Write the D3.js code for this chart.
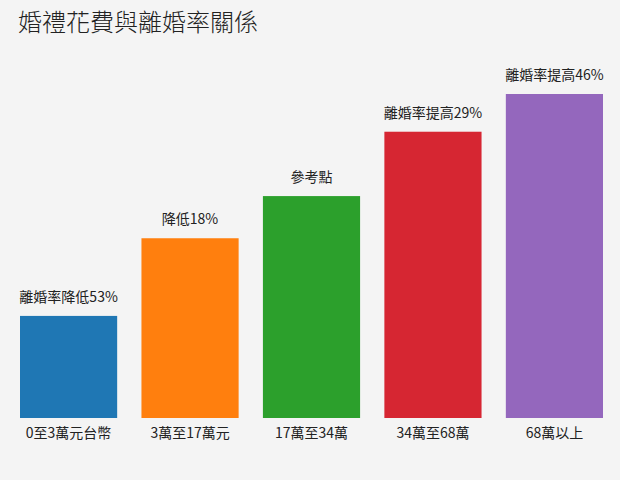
<!DOCTYPE html>
<html>
<head>
<meta charset="utf-8">
<script src="https://cdn.jsdelivr.net/npm/d3@7"></script>
<style>
  html, body { margin: 0; padding: 0; background: #f4f4f4; }
  svg { display: block; font-family: "Noto Sans CJK TC", "Noto Sans", sans-serif; }
</style>
</head>
<body>
<svg id="chart" width="620" height="480"></svg>
<script>
const title = "婚禮花費與離婚率關係";
const categories = ["0至3萬元台幣", "3萬至17萬元", "17萬至34萬", "34萬至68萬", "68萬以上"];
const values = [0.46, 0.81, 1.00, 1.29, 1.46];
const barLabels = ["離婚率降低53%", "降低18%", "參考點", "離婚率提高29%", "離婚率提高46%"];
const colors = ["#1f77b4", "#ff7f0e", "#2ca02c", "#d62632", "#9467bd"];

const svg = d3.select("#chart");
svg.append("rect").attr("width", 620).attr("height", 480).attr("fill", "#f4f4f4");

const x = d3.scaleBand().domain(categories).range([20, 603]).paddingInner(0.2).paddingOuter(0);
const y = d3.scaleLinear().domain([0, 1.46]).range([418, 94]);

svg.append("text")
  .attr("x", 18).attr("y", 31)
  .attr("font-size", 24)
  .attr("font-weight", 300)
  .attr("fill", "#222")
  .text(title);

svg.selectAll("rect.bar")
  .data(categories)
  .join("rect")
  .attr("class", "bar")
  .attr("x", d => x(d))
  .attr("width", x.bandwidth())
  .attr("y", (d, i) => y(values[i]))
  .attr("height", (d, i) => y(0) - y(values[i]))
  .attr("fill", (d, i) => colors[i]);

svg.selectAll("text.vlabel")
  .data(categories)
  .join("text")
  .attr("class", "vlabel")
  .attr("x", d => x(d) + x.bandwidth() / 2)
  .attr("y", (d, i) => y(values[i]) - 14)
  .attr("text-anchor", "middle")
  .attr("font-size", 14)
  .attr("fill", "#222")
  .text((d, i) => barLabels[i]);

const axis = svg.append("g")
  .attr("transform", "translate(0,418)")
  .call(d3.axisBottom(x).tickSize(0).tickPadding(0));
axis.select(".domain").remove();
axis.selectAll("text")
  .attr("y", 20)
  .attr("dy", 0)
  .attr("font-size", 14)
  .attr("font-family", "\"Noto Sans CJK TC\", sans-serif")
  .attr("fill", "#222");
</script>
</body>
</html>
